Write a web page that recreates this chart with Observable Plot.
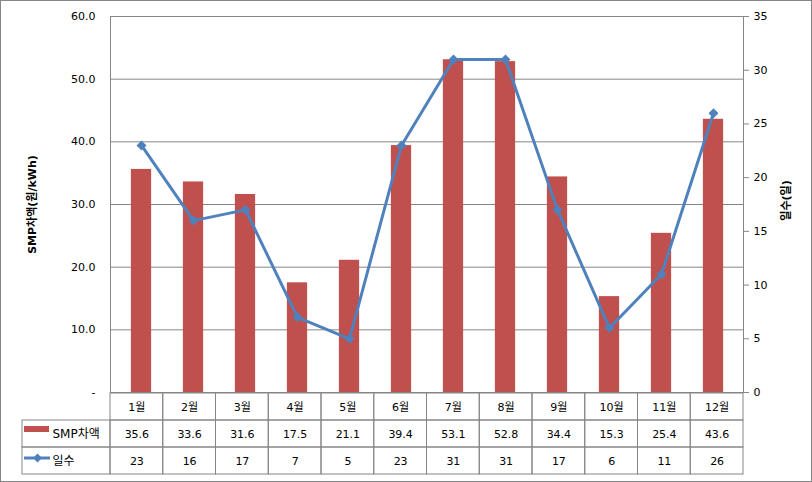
<!DOCTYPE html>
<html>
<head>
<meta charset="utf-8">
<script src="https://cdn.jsdelivr.net/npm/d3@7"></script>
<script src="https://cdn.jsdelivr.net/npm/@observablehq/plot@0.6"></script>
<style>
  html, body { margin: 0; padding: 0; background: #fff; }
  #wrap { position: relative; width: 812px; height: 482px; overflow: hidden; background: #fff; }
  #wrap svg { position: absolute; left: 0; display: block; }
  #border { position: absolute; left: 0; top: 0; width: 812px; height: 482px; box-sizing: border-box; border: 1px solid #868686; pointer-events: none; }
</style>
</head>
<body>
<div id="wrap"><div id="border"></div></div>
<script>
// ---- data ----
const months = ["1월","2월","3월","4월","5월","6월","7월","8월","9월","10월","11월","12월"];
const smpDiff = [35.6, 33.6, 31.6, 17.5, 21.1, 39.4, 53.1, 52.8, 34.4, 15.3, 25.4, 43.6];
const dayCount = [23, 16, 17, 7, 5, 23, 31, 31, 17, 6, 11, 26];
const smpTicks = [0, 10, 20, 30, 40, 50, 60];
const dayTicks = [0, 5, 10, 15, 20, 25, 30, 35];
const seriesNames = ["SMP차액", "일수"];
const leftTitle = "SMP차액(원/kWh)";
const rightTitle = "일수(일)";

// ---- layout / style ----
const W = 812, H = 482, ML = 110, MR = 69, MT = 16, MB = 90;
const FONT = "'DejaVu Sans', 'Noto Sans CJK KR', sans-serif";
const GRID = "#868686", RED = "#C0504D", BLUE = "#4F81BD";
const bw = (W - ML - MR) / months.length;
const barInset = (bw - 21) / 2;
const k = smpTicks[smpTicks.length - 1] / dayTicks[dayTicks.length - 1]; // secondary axis factor

const data = months.map((m, i) => ({month: m, smp: smpDiff[i], days: dayCount[i]}));

const chart = Plot.plot({
  width: W, height: H,
  marginLeft: ML, marginRight: MR, marginTop: MT, marginBottom: MB,
  style: {fontFamily: FONT, fontSize: "11px", background: "transparent", color: "#000"},
  x: {type: "band", domain: months, padding: 0, axis: null},
  y: {domain: [0, 60], axis: null},
  marks: [
    Plot.gridY(smpTicks, {stroke: GRID, strokeOpacity: 1}),
    Plot.barY(data, {x: "month", y: "smp", fill: RED, insetLeft: barInset, insetRight: barInset}),
    Plot.frame({stroke: GRID}),
    Plot.line(data, {x: "month", y: d => d.days * k, stroke: BLUE, strokeWidth: 3}),
    Plot.dot(data, {x: "month", y: d => d.days * k, symbol: "diamond2", r: 4.5, fill: BLUE, stroke: "none"}),
    Plot.axisY(smpTicks, {anchor: "left", tickSize: 0, tickPadding: 15, label: null,
      tickFormat: d => d === 0 ? "-" : d.toFixed(1)}),
    Plot.axisY(dayTicks.map(d => d * k), {anchor: "right", tickSize: 5, tickPadding: 5, label: null,
      stroke: GRID, tickFormat: d => String(Math.round(d / k))}),
    Plot.text([leftTitle], {frameAnchor: "left", textAnchor: "middle", dx: -78, rotate: -90, fontWeight: "bold", fontSize: 11}),
    Plot.text([rightTitle], {frameAnchor: "right", textAnchor: "middle", dx: 43, dy: -4, rotate: -90, fontWeight: "bold", fontSize: 11})
  ]
});
chart.style.top = "0px";
document.getElementById("wrap").insertBefore(chart, document.getElementById("border"));

// ---- data table ----
const rowKeys = ["month", seriesNames[0], seriesNames[1]];
const cells = months.flatMap((m, i) => rowKeys.map(r => ({
  i, row: r,
  text: r === "month" ? m : r === seriesNames[0] ? smpDiff[i].toFixed(1) : String(dayCount[i])
})));
const px = p => (p - ML) / bw;       // pixel -> table unit
const hdr = px(22);                  // left edge of header column

const table = Plot.plot({
  width: W, height: H - 392,
  marginLeft: ML, marginRight: MR, marginTop: 0, marginBottom: 7,
  style: {fontFamily: FONT, fontSize: "11px", background: "transparent", color: "#000"},
  x: {domain: [0, months.length], axis: null},
  y: {type: "band", domain: rowKeys, padding: 0, axis: null},
  marks: [
    Plot.barX(cells, {x1: "i", x2: d => d.i + 1, y: "row", fill: "none", stroke: GRID}),
    Plot.barX(seriesNames, {x1: hdr, x2: 0, y: d => d, fill: "none", stroke: GRID}),
    Plot.text(cells, {x: d => d.i + 0.5, y: "row", text: "text", fontSize: 11}),
    Plot.ruleY([seriesNames[0]], {y: d => d, x1: px(24), x2: px(49), stroke: RED, strokeWidth: 6, dy: -5}),
    Plot.ruleY([seriesNames[1]], {y: d => d, x1: px(24), x2: px(50), stroke: BLUE, strokeWidth: 3, dy: -3}),
    Plot.dot([seriesNames[1]], {x: px(37), y: d => d, symbol: "diamond2", r: 4, fill: BLUE, dy: -3}),
    Plot.text(seriesNames, {x: 0, y: d => d, text: d => d, dx: -58, textAnchor: "start", fontSize: 12})
  ]
});
table.style.top = "392px";
document.getElementById("wrap").insertBefore(table, document.getElementById("border"));
</script>
</body>
</html>
